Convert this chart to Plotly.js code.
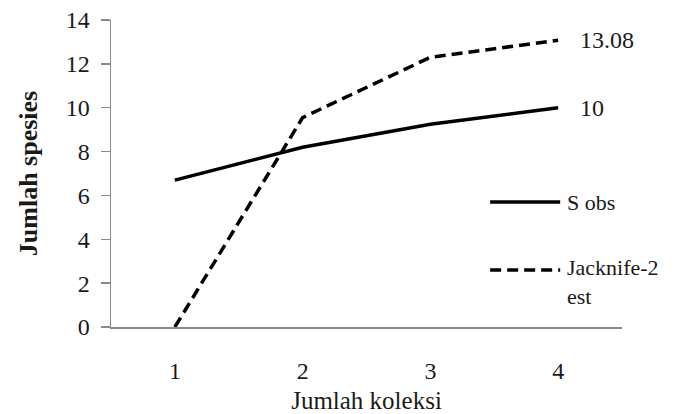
<!DOCTYPE html>
<html>
<head>
<meta charset="utf-8">
<script src="https://cdn.plot.ly/plotly-3.0.1.min.js"></script>
<style>
html,body{margin:0;padding:0;background:#fff;}
#chart{width:695px;height:414px;}
#chart text{font-family:"Liberation Serif","Times New Roman",serif !important;}
</style>
</head>
<body>
<div id="chart"></div>
<script>
// Data
const koleksi = [1, 2, 3, 4];
const sObs = [6.7, 8.2, 9.25, 10];
const jack2 = [0, 9.55, 12.3, 13.08];
const seriesNames = ["S obs", "Jacknife-2<br>est"];
const endLabels = ["10", "13.08"];
const yTicks = [0, 2, 4, 6, 8, 10, 12, 14];

const font = "Liberation Serif";
const txt = "#1a1a1a";

const traces = [
  {x: koleksi, y: sObs, mode: "lines", name: seriesNames[0],
   line: {color: "#000", width: 3.5}, showlegend: false},
  {x: koleksi, y: jack2, mode: "lines", name: seriesNames[1],
   line: {color: "#000", width: 3.5, dash: "11px,6px"}, showlegend: false}
];

const lastIdx = koleksi.length - 1;
const annotations = [
  {x: koleksi[lastIdx], y: sObs[lastIdx], xref: "x", yref: "y", text: endLabels[0],
   showarrow: false, xanchor: "left", xshift: 20, font: {family: font, size: 24, color: txt}},
  {x: koleksi[lastIdx], y: jack2[lastIdx], xref: "x", yref: "y", text: endLabels[1],
   showarrow: false, xanchor: "left", xshift: 20, font: {family: font, size: 24, color: txt}},
  // legend texts
  {x: 0.888, y: 0.407, xref: "paper", yref: "paper", text: seriesNames[0], showarrow: false,
   xanchor: "left", yanchor: "middle", font: {family: font, size: 22, color: txt}},
  {x: 0.888, y: 0.24, xref: "paper", yref: "paper", text: seriesNames[1], showarrow: false,
   xanchor: "left", yanchor: "top", align: "left", font: {family: font, size: 22, color: txt}}
];

const shapes = [
  {type: "line", xref: "paper", yref: "paper", x0: 0.742, x1: 0.879, y0: 0.407, y1: 0.407,
   line: {color: "#000", width: 3.5}},
  {type: "line", xref: "paper", yref: "paper", x0: 0.742, x1: 0.879, y0: 0.186, y1: 0.186,
   line: {color: "#000", width: 3.5, dash: "11px,6px"}}
];

const layout = {
  width: 695, height: 414,
  margin: {l: 111, r: 73, t: 20, b: 87},
  paper_bgcolor: "#fff", plot_bgcolor: "#fff",
  showlegend: false,
  font: {family: font, color: txt},
  xaxis: {
    range: [0.5, 4.5], tickvals: koleksi, ticktext: koleksi.map(String),
    showgrid: false, zeroline: false, showline: true, linecolor: "#8a8a8a", linewidth: 1.5,
    ticks: "", ticklabelstandoff: 22, tickfont: {family: font, size: 24, color: txt},
    title: {text: "Jumlah koleksi", font: {family: font, size: 25, color: txt}, standoff: 12}
  },
  yaxis: {
    range: [0, 14], tickvals: yTicks, showgrid: false, zeroline: false,
    showline: true, linecolor: "#8a8a8a", linewidth: 1.5,
    ticks: "outside", ticklen: 9, tickcolor: "#8a8a8a", tickwidth: 1.5,
    ticklabelstandoff: 6,
    tickfont: {family: font, size: 24, color: txt},
    title: {text: "<b>Jumlah spesies</b>", font: {family: font, size: 26, color: txt}, standoff: 20}
  },
  annotations: annotations,
  shapes: shapes
};

Plotly.newPlot("chart", traces, layout, {displayModeBar: false, staticPlot: true});
</script>
</body>
</html>
